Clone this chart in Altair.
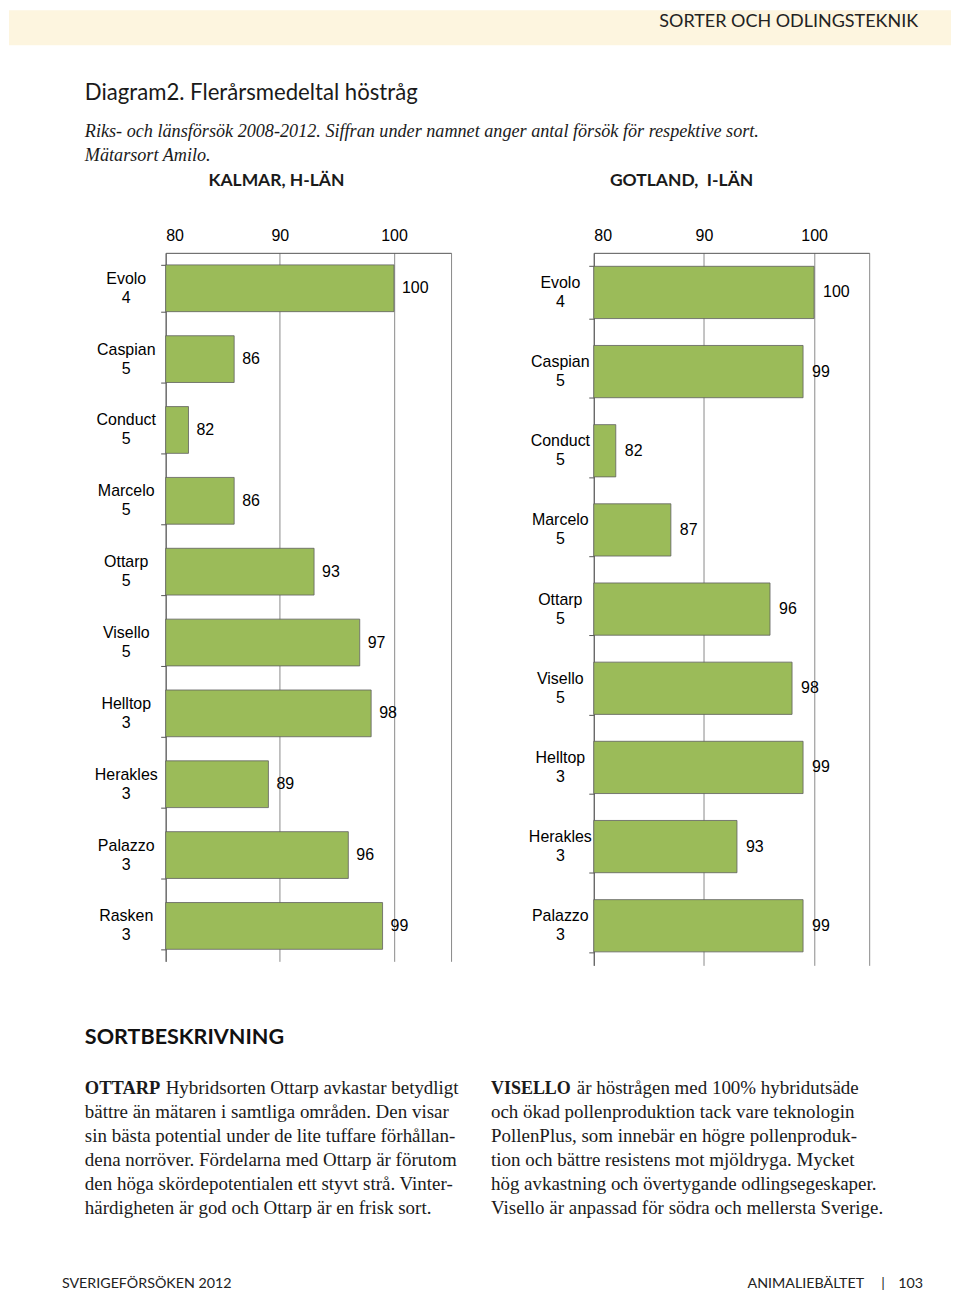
import altair as alt
import pandas as pd

# ---------------- data ----------------
kalmar_names = ["Evolo", "Caspian", "Conduct", "Marcelo", "Ottarp", "Visello",
                "Helltop", "Herakles", "Palazzo", "Rasken"]
kalmar_counts = [4, 5, 5, 5, 5, 5, 3, 3, 3, 3]
kalmar_values = [100, 86, 82, 86, 93, 97, 98, 89, 96, 99]

gotland_names = ["Evolo", "Caspian", "Conduct", "Marcelo", "Ottarp", "Visello",
                 "Helltop", "Herakles", "Palazzo"]
gotland_counts = [4, 5, 5, 5, 5, 5, 3, 3, 3]
gotland_values = [100, 99, 82, 87, 96, 98, 99, 93, 99]

x_ticks = [80, 90, 100]
x_domain = [80, 105]

header_text = "SORTER OCH ODLINGSTEKNIK"
title_text = "Diagram2. Flerårsmedeltal höstråg"
subtitle_lines = [
    "Riks- och länsförsök 2008-2012. Siffran under namnet anger antal försök för respektive sort.",
    "Mätarsort Amilo.",
]
panel_titles = ["KALMAR, H-LÄN", "GOTLAND,\u00a0 I-LÄN"]
section_title = "SORTBESKRIVNING"
left_lead = "OTTARP"
left_first = "Hybridsorten Ottarp avkastar betydligt"
left_lines = [
    "bättre än mätaren i samtliga områden. Den visar",
    "sin bästa potential under de lite tuffare förhållan-",
    "dena norröver. Fördelarna med Ottarp är förutom",
    "den höga skördepotentialen ett styvt strå. Vinter-",
    "härdigheten är god och Ottarp är en frisk sort.",
]
right_lead = "VISELLO"
right_first = "är höstrågen med 100% hybridutsäde"
right_lines = [
    "och ökad pollenproduktion tack vare teknologin",
    "PollenPlus, som innebär en högre pollenproduk-",
    "tion och bättre resistens mot mjöldryga. Mycket",
    "hög avkastning och övertygande odlingsegeskaper.",
    "Visello är anpassad för södra och mellersta Sverige.",
]
footer_left = "SVERIGEFÖRSÖKEN 2012"
footer_right = "ANIMALIEBÄLTET"
footer_sep = "|"
footer_page = "103"

# ---------------- styles ----------------
SANS = "Lato"
SERIF = "Liberation Serif"
CHART_FONT = "Liberation Sans"
INK = "#1a1a1a"
BAR_GREEN = "#9bbb59"
BEIGE = "#fdf5df"

one = pd.DataFrame({"k": [0]})


def txt(text, x, y, size, font, weight="normal", style="normal", align="left",
        color=INK, lh=None):
    kw = dict(fontSize=size, font=font, fontWeight=weight, fontStyle=style,
              align=align, baseline="alphabetic", color=color)
    if lh:
        kw["lineHeight"] = lh
    return alt.Chart(one).mark_text(**kw).encode(
        x=alt.value(x), y=alt.value(y), text=alt.value(text))


# Page text lives in the (narrow) first column; coordinates are relative to
# the top-left of the bar panels' row.
band = alt.Chart(one).mark_rect(color=BEIGE).encode(
    x=alt.value(0), x2=alt.value(944), y=alt.value(-243), y2=alt.value(-208))

page_text = alt.layer(
    band,
    txt(header_text, 911, -226, 18, SANS, color="#222", align="right"),
    txt(title_text, 76, -153, 22.2, SANS),
    txt(subtitle_lines, 76, -116, 18.2, SERIF, style="italic", lh=24),
    txt(panel_titles[0], 268, -67, 17.5, SANS, weight="bold", align="center"),
    txt(panel_titles[1], 674, -67, 17.5, SANS, weight="bold", align="center"),
    txt(section_title, 76, 793, 21.6, SANS, weight="bold", color="#111"),
    txt(left_lead, 76, 843, 18.5, SERIF, weight="bold"),
    txt(left_first, 157, 843, 19, SERIF),
    txt(left_lines, 76, 867, 19, SERIF, lh=24),
    txt(right_lead, 483, 843, 18, SERIF, weight="bold"),
    txt(right_first, 569, 843, 19, SERIF),
    txt(right_lines, 483, 867, 19, SERIF, lh=24),
    txt(footer_left, 53, 1037, 14.3, SANS, color="#222"),
    txt(footer_right, 857, 1037, 14.3, SANS, color="#222", align="right"),
    txt(footer_sep, 876, 1037, 14.3, SANS, color="#222", align="center"),
    txt(footer_page, 916, 1037, 14.3, SANS, color="#222", align="right"),
).properties(width=14, height=714)


# ---------------- bar panels ----------------
def panel(names, counts, values, width, height, lab_pad, dx):
    df = pd.DataFrame({"name": names, "count": counts, "value": values})
    df["lab"] = df["name"] + "|" + df["count"].astype(str)
    order = list(df["lab"])
    y = alt.Y("lab:N", sort=order,
              scale=alt.Scale(paddingInner=0.34, paddingOuter=0.17),
              axis=alt.Axis(title=None, labelExpr="split(datum.label, '|')",
                            labelAlign="center", labelBaseline="middle",
                            labelPadding=lab_pad, labelLineHeight=19,
                            labelOffset=-10,
                            labelFontSize=16, labelFont=CHART_FONT,
                            labelColor="#000", tickBand="extent", tickSize=5,
                            tickColor="#555", domainColor="#555", grid=False))
    x = alt.X("value:Q",
              scale=alt.Scale(domain=x_domain, nice=False, zero=False),
              axis=alt.Axis(orient="top", title=None, values=x_ticks + [x_domain[1]],
                            labelExpr=f"datum.value == {x_domain[1]} ? '' : datum.label",
                            ticks=False, labelPadding=9, labelFontSize=16,
                            labelFont=CHART_FONT, labelColor="#000", grid=True,
                            gridColor="#8a8a8a", gridWidth=1, domainColor="#555"))
    bars = alt.Chart(df).mark_bar(color=BAR_GREEN, stroke="#5f5f5f",
                                  strokeWidth=0.8).encode(
        x=x, x2=alt.datum(x_domain[0]), y=y)
    labels = alt.Chart(df).mark_text(align="left", baseline="middle", dx=dx,
                                     fontSize=16, font=CHART_FONT,
                                     color="#000").encode(
        x=x, y=y, text=alt.Text("value:Q"))
    return alt.layer(bars, labels).properties(width=width, height=height)


left_panel = panel(kalmar_names, kalmar_counts, kalmar_values, 286, 710, 35, 8)
right_panel = panel(gotland_names, gotland_counts, gotland_values, 276, 714, 29, 9)

chart = alt.hconcat(page_text, left_panel, right_panel, spacing=143,
                    bounds="flush", padding=0).configure_view(stroke="transparent")

chart.save("out.html", embed_options={"renderer": "svg", "actions": False})
